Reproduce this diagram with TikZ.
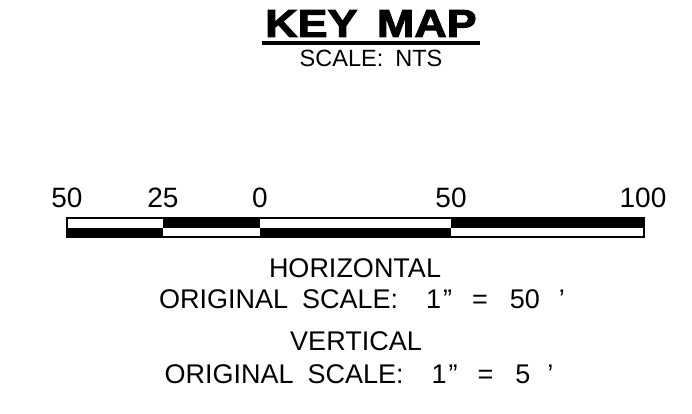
\documentclass[tikz,border=0pt]{standalone}
\usepackage{fontspec}
\setmainfont{Liberation Sans}
\newfontfamily\titlefont{Liberation Sans Bold}[FakeBold=2.5]
\begin{document}
\begin{tikzpicture}[x=1pt,y=-1pt,
  lbl/.style={inner sep=0pt,anchor=base,font=\fontsize{27}{30}\selectfont},
  num/.style={inner sep=0pt,anchor=base,font=\fontsize{28}{32}\selectfont},
  barfill/.style={fill=black},
  barframe/.style={draw=black,line width=1.1pt}]
\useasboundingbox (0,0) rectangle (692,414);
% title
\node[inner sep=0pt,anchor=base,font=\fontsize{39}{40}\titlefont] (title) at (371,37) {\scalebox{1.15}[1]{KEY\hspace{17pt}MAP}};
\coordinate (ulL) at (262,43);
\coordinate (ulR) at (480,43);
\draw[line width=3.5pt] (ulL) -- (ulR);
\node[inner sep=0pt,anchor=base,font=\fontsize{23.5}{26}\selectfont] (nts) at (371,67) {SCALE:\hspace{12pt}NTS};
% numbers
\node[num] (n50l) at (67,207) {50};
\node[num] (n25) at (163,207) {25};
\node[num] (n0) at (260,207) {0};
\node[num] (n50r) at (451,207) {50};
\node[num] (n100) at (643,207) {100};
% bar
\fill[barfill] (163,218) rectangle (260,227.5);
\fill[barfill] (451,218) rectangle (644,227.5);
\fill[barfill] (67,227.5) rectangle (163,237);
\fill[barfill] (260,227.5) rectangle (451,237);
\draw[barframe] (67,218) rectangle (644,237);
% captions
\node[lbl] (hz) at (355,277) {HORIZONTAL};
\node[lbl] (hzs) at (362,308) {ORIGINAL\hspace{14pt}SCALE:\hspace{28pt}1\hspace{2pt}”\hspace{20pt}=\hspace{22pt}50\hspace{19pt}’};
\node[lbl] (vt) at (356,350) {VERTICAL};
\node[lbl] (vts) at (359,383) {ORIGINAL\hspace{14pt}SCALE:\hspace{28pt}1\hspace{2pt}”\hspace{20pt}=\hspace{22pt}5\hspace{17pt}’};
\end{tikzpicture}
\end{document}
